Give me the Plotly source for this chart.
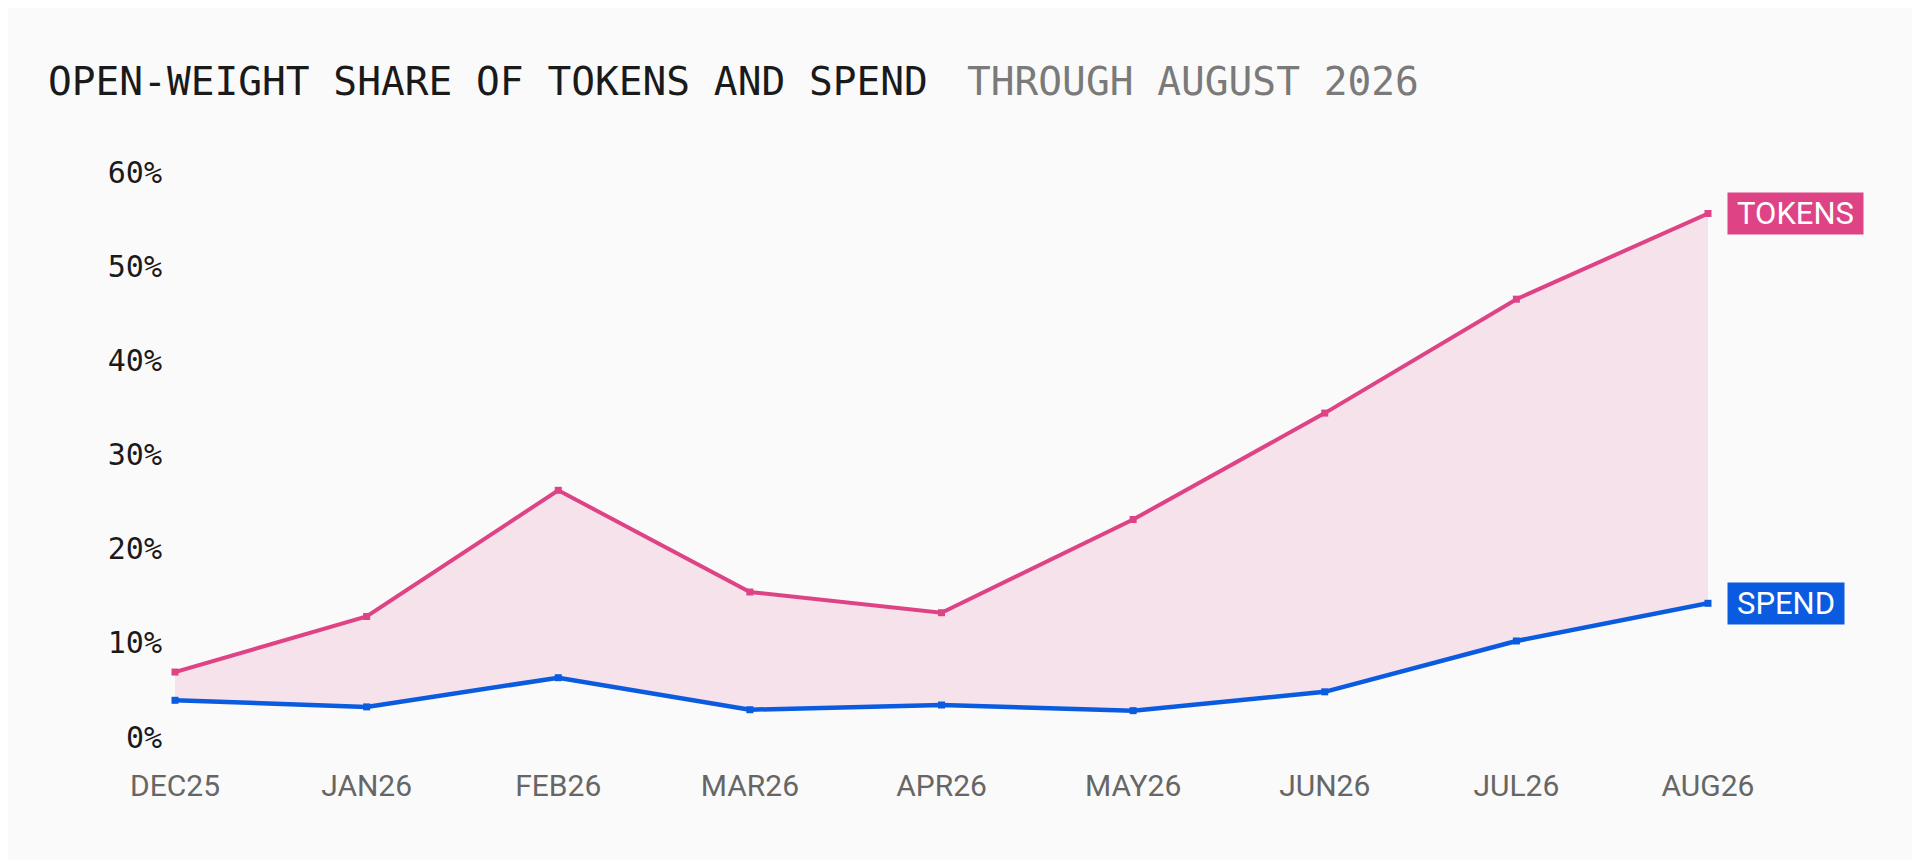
import plotly.graph_objects as go

months = ["DEC25", "JAN26", "FEB26", "MAR26", "APR26", "MAY26", "JUN26", "JUL26", "AUG26"]
tokens = [6.9, 12.8, 26.2, 15.4, 13.2, 23.1, 34.4, 46.5, 55.6]
spend = [3.9, 3.2, 6.3, 2.9, 3.4, 2.8, 4.8, 10.2, 14.2]
y_ticks = [0, 10, 20, 30, 40, 50, 60]

PINK = "#DE4385"
BLUE = "#0A5BDF"
BG = "#FAFAFA"
MONO = "DejaVu Sans Mono"
SANS = "Roboto"

W, H = 1920, 860
OFF = 8  # page body margin
L, R, T, B = 175 - OFF, 212 + OFF, 150 - OFF, 100 + OFF
x_idx = list(range(len(months)))


def px_x(px):
    return (px - OFF - L) / (W - L - R)


def px_y(py):
    return 1 - (py - OFF - T) / (H - T - B)


fig = go.Figure()
fig.add_trace(go.Scatter(
    x=x_idx, y=spend, mode="lines+markers", name="SPEND",
    line=dict(color=BLUE, width=4.5),
    marker=dict(symbol="square", size=7, color=BLUE),
    cliponaxis=False, hoverinfo="skip",
))
fig.add_trace(go.Scatter(
    x=x_idx, y=tokens, mode="lines+markers", name="TOKENS",
    line=dict(color=PINK, width=4),
    marker=dict(symbol="square", size=7, color=PINK),
    fill="tonexty", fillcolor="rgba(222,67,133,0.13)",
    cliponaxis=False, hoverinfo="skip",
))

# end labels
for name, vals, col, w in [("TOKENS", tokens, PINK, 133), ("SPEND", spend, BLUE, 114)]:
    fig.add_annotation(
        x=x_idx[-1], y=vals[-1], xref="x", yref="y",
        text=name, showarrow=False, xanchor="left", yanchor="middle",
        xshift=19, width=w, height=39, bgcolor=col,
        font=dict(family=SANS, size=31, color="white"),
    )

# title
fig.add_annotation(
    x=px_x(46), y=px_y(81), xref="paper", yref="paper",
    text="OPEN-WEIGHT SHARE OF TOKENS AND SPEND", showarrow=False,
    xanchor="left", yanchor="middle",
    font=dict(family=MONO, size=39.5, color="#1A1A1A"),
)
fig.add_annotation(
    x=px_x(965), y=px_y(81), xref="paper", yref="paper",
    text="THROUGH AUGUST 2026", showarrow=False,
    xanchor="left", yanchor="middle",
    font=dict(family=MONO, size=39.5, color="#7A7A7A"),
)

fig.update_layout(
    width=W, height=H,
    margin=dict(l=L, r=R, t=T, b=B),
    paper_bgcolor=BG, plot_bgcolor=BG,
    showlegend=False,
    xaxis=dict(
        range=[0, len(months) - 1], tickvals=x_idx, ticktext=months,
        showgrid=False, zeroline=False, showline=False, ticks="",
        tickfont=dict(family=SANS, size=30, color="#666666"),
        ticklabelstandoff=5,
    ),
    yaxis=dict(
        range=[-2.44, 62.34], tickvals=y_ticks,
        ticktext=[f"{v}%" for v in y_ticks],
        showgrid=False, zeroline=False, showline=False, ticks="",
        tickfont=dict(family=MONO, size=30, color="#1A1A1A"),
        ticklabelstandoff=12,
    ),
)

fig.write_html("out.html")
